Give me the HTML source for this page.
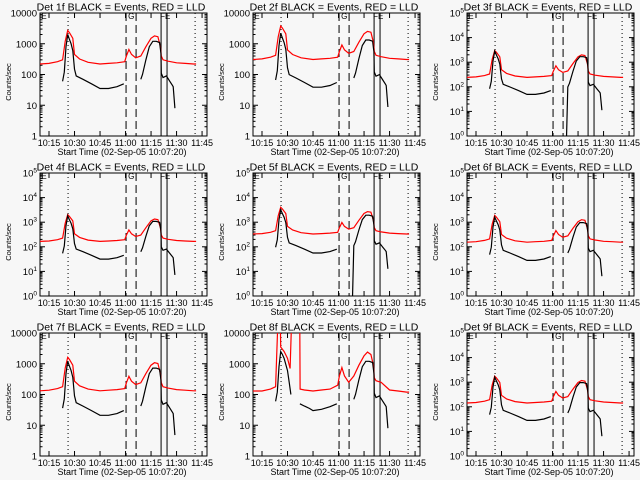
<!DOCTYPE html>
<html><head><meta charset="utf-8"><style>
body{margin:0;background:#f7f7f7;}
svg{display:block;font-family:"Liberation Sans",sans-serif;}
</style></head><body>
<svg id="c" width="640" height="480" viewBox="0 0 640 480"></svg>
<script>
// shared data (minutes after 10:00)
const redT = [9.7,15,20,23,24.5,26,27,29,30,33,38,45,50,55,59.5,60.5,62,63.5,66,69,72,75,77,79,80.5,81,82,85,90,95,100,101.5];
const redV = [220,230,260,300,1200,2700,2300,1500,450,320,250,220,230,240,260,400,650,450,350,400,800,1500,1800,1700,800,400,300,270,240,230,220,220];
const blk1T = [23,24,25,26,27,28,29,30,31,35,40,45,50,55,59];
const blk1V = [60,120,800,2000,1400,1000,600,150,90,70,50,35,35,40,50];
const blk2T = [69,70,72,74,76,78,80,80.8,81,82,84,86,87.5,88,89];
const blk2V = [70,100,300,800,1200,1200,1100,500,110,80,90,60,45,40,8];
const det8RedT = [9.7,15,20,23,24.2,25.8,26,28,30,31.5,32.3,37.2,37.4,40,45,50,55,59.5,60.5,62,63.5,66,69,72,75,77,79,80.5,81,82,85,90,95,100,101.5];
const det8RedV = [130,130,150,180,20000,20000,3500,2500,1500,700,20000,20000,150,140,130,140,150,200,400,750,400,250,400,900,1800,2400,2000,900,350,280,250,140,130,120,120];
const det8Blk1T = [23,24,25,26,27,28,30,31,32];
const det8Blk1V = [60,120,800,2500,2000,1500,600,250,100];
const det8Blk3T = [37.3,40,43,45,50,55,59];
const det8Blk3V = [50,42,35,30,33,40,50];
const panelNames = ["1f","2f","3f","4f","5f","6f","7f","8f","9f"];
const redScale = [1,1.4,1.1,0.75,1.5,0.7,0.6,1,0.65];
const blkScale = [1,1.1,1.4,0.9,1.6,0.8,0.6,1,0.8];
const decades = [4,4,5,5,5,5,4,4,5];
const dropout = [0,0,1,0,1,0,0,0,0];
const xTicks = [15,30,45,60,75,90,105];
const xTickLabels = ["10:15","10:30","10:45","11:00","11:15","11:30","11:45"];
const markers = [26.2,60.3,66.2,80.9,84.4,100.9];
const markerStyle = ["dot","dash","dash","solid","solid","dot"];

const NS="http://www.w3.org/2000/svg";
const svg=document.getElementById('c');
function mk(tag,at,parent){const e=document.createElementNS(NS,tag);for(const k in at)e.setAttribute(k,at[k]);(parent||svg).appendChild(e);return e;}
const XMIN=9.7,XMAX=107.9;
for(let p=0;p<9;p++){
  const ox=Math.round((p%3)*213.33), oy=Math.floor(p/3)*160;
  const L=ox+40,R=ox+207,T=oy+13,B=oy+136;
  const D=decades[p];
  const g=mk('g',{});
  
  
  const sx=m=>L+(m-XMIN)/(XMAX-XMIN)*(R-L);
  const sy=v=>{let l=Math.log10(Math.max(v,1e-3));l=Math.max(-0.5,Math.min(D+0.2,l));return B-l/D*(B-T);};
  const cid='cl'+p;
  const cp=mk('clipPath',{id:cid},g);mk('rect',{x:L,y:T,width:R-L,height:B-T},cp);
  const box=mk('rect',{x:L,y:T,width:R-L,height:B-T,fill:'none',stroke:'#000','stroke-width':1},g);
  
  for(let d=0;d<=D;d++){
    const y=sy(Math.pow(10,d));
    mk('line',{x1:L,x2:L+5,y1:y,y2:y,stroke:'#000'},g);mk('line',{x1:R,x2:R-5,y1:y,y2:y,stroke:'#000'},g);
    if(d<D)for(let k=2;k<10;k++){const yy=sy(k*Math.pow(10,d));mk('line',{x1:L,x2:L+2.5,y1:yy,y2:yy,stroke:'#000'},g);mk('line',{x1:R,x2:R-2.5,y1:yy,y2:yy,stroke:'#000'},g);}
    const t=mk('text',{x:L-3,y:y+3.5,'text-anchor':'end','font-size':D===4?9.5:9.5,fill:'#000'},g);
    
    if(D===4){t.textContent=String(Math.pow(10,d));}
    else{t.textContent='10';const s=mk('tspan',{dy:-4,'font-size':6.5},t);s.textContent=String(d);}
  }
  xTicks.forEach((m,i)=>{const x=sx(m);
    mk('line',{x1:x,x2:x,y1:B,y2:B-5,stroke:'#000'},g);mk('line',{x1:x,x2:x,y1:T,y2:T+5,stroke:'#000'},g);
    const t=mk('text',{x:x,y:B+10,'text-anchor':'middle','font-size':9,fill:'#000'},g);
    
    t.textContent=xTickLabels[i];});
  markers.forEach((m,i)=>{const x=sx(m);
    const st=markerStyle[i];
    const ln=mk('line',{x1:x,x2:x,y1:T,y2:B,stroke:'#000','stroke-width':1,'stroke-dasharray':st==='dot'?'1,3':st==='dash'?'8,4':'none'},g);
    });
  [['E',sx(10.5)],['G',sx(61.5)],['FE',sx(80.3)]].forEach(a=>{const t=mk('text',{x:a[1],y:T+6,'font-size':8,fill:'#000'},g);t.textContent=a[0];
    });
  const cg=mk('g',{'clip-path':'url(#'+cid+')'},g);
  const line=(Ts,Vs,sc,col,name,pre)=>{let pts=Ts.map((t,i)=>[sx(t),sy(Vs[i]*sc)]);if(pre)pts=[pre].concat(pts);
    const e=mk('polyline',{points:pts.map(a=>a[0].toFixed(1)+','+a[1].toFixed(1)).join(' '),fill:'none',stroke:col,'stroke-width':1.2},cg);
    };
  if(p===7){
    line(det8RedT,det8RedV,1,'#ff0000','lld-red-series');
    line(det8Blk1T,det8Blk1V,1,'#000','events-black-series-1');
    line(det8Blk3T,det8Blk3V,1,'#000','events-black-series-1b');
  } else {
    line(redT,redV,redScale[p],'#ff0000','lld-red-series');
    line(blk1T,blk1V,blkScale[p],'#000','events-black-series-1');
  }
  line(blk2T,blk2V,blkScale[p],'#000','events-black-series-2',dropout[p]?[sx(68.2),B+2]:null);
  const tt=mk('text',{x:ox+121,y:oy+10.5,'text-anchor':'middle','font-size':10.5,fill:'#000'},g);
  
  tt.textContent='Det '+panelNames[p]+' BLACK = Events, RED = LLD';
  const xl=mk('text',{x:ox+122,y:oy+155,'text-anchor':'middle','font-size':9,fill:'#000'},g);
  
  xl.textContent='Start Time (02-Sep-05 10:07:20)';
  const yl=mk('text',{x:0,y:0,'text-anchor':'middle','font-size':7.5,fill:'#000',transform:'translate('+(ox+11)+','+(oy+82)+') rotate(-90)'},g);
  
  yl.textContent='Counts/sec';
}
</script>
</body></html>
